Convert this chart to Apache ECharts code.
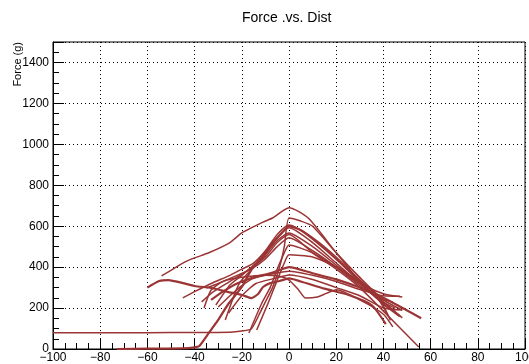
<!DOCTYPE html>
<html>
<head>
<meta charset="utf-8">
<script src="https://cdn.jsdelivr.net/npm/echarts@6/dist/echarts.min.js"></script>
<style>
  html, body { margin: 0; padding: 0; background: #fff; }
  #chart { width: 529px; height: 364px; }
</style>
</head>
<body>
<div id="chart"></div>
<script>
// each curve is a list of [dist, force] points
var c1 = [[-54, 357], [-45, 420], [-40, 445], [-34, 470], [-25, 520], [-20, 567], [-11, 620], [-7, 640], [0, 690], [4, 672], [9, 630], [20, 470], [30, 330], [38, 240], [45, 200]]
var c2 = [[-73, 0], [-60, 2], [-45, 3], [-40, 8], [-38, 15], [-34, 78], [-30, 142], [-26, 215], [-20, 303], [-16, 386], [-11, 450], [-7, 518], [-3, 567], [0, 600], [5, 580], [12, 520], [20, 440], [30, 330], [40, 220], [47, 160]]
var c3 = [[-100, 80], [-80, 79], [-60, 80], [-40, 81], [-25, 82], [-20, 88], [-16, 98], [-13, 160], [-10, 230], [-7, 300], [-4, 400], [-2, 500], [0, 640], [5, 625], [10, 600], [20, 470], [30, 350], [40, 240], [48, 190]]
var c4 = [[-60, 300], [-55, 332], [-51, 337], [-47, 328], [-40, 308], [-33, 298], [-26, 279], [-20, 264], [-16, 249], [-13, 270], [-11, 303], [-8, 322], [-4, 332], [0, 345], [5, 330], [15, 295], [25, 265], [35, 215], [41, 122]]
var c5 = [[-36, 200], [-33, 288], [-28, 330], [-20, 350], [-10, 360], [-4, 355], [0, 337], [4, 290], [7, 249], [12, 254], [16, 273], [20, 289], [30, 240], [40, 170], [44, 108]]
var c6 = [[-45, 250], [-40, 280], [-33, 320], [-25, 360], [-20, 390], [-15, 420], [-10, 480], [-5, 560], [0, 606], [8, 560], [18, 470], [28, 360], [38, 250], [43, 140]]
var c7 = [[-31, 215], [-25, 313], [-20, 360], [-14, 420], [-8, 500], [-3, 570], [0, 592], [10, 520], [20, 420], [30, 320], [40, 230], [48, 152]]
var c8 = [[-27, 142], [-21, 322], [-15, 400], [-10, 460], [-5, 530], [0, 567], [10, 500], [20, 410], [30, 320], [38, 240], [42, 160]]
var c9 = [[-35, 298], [-30, 320], [-22, 360], [-16, 390], [-10, 440], [-5, 500], [0, 543], [10, 480], [20, 400], [30, 310], [38, 250], [44, 230]]
var c10 = [[-17, 78], [-11.5, 225], [-8, 300], [-5, 390], [-2, 470], [0, 508], [10, 470], [20, 400], [30, 320], [40, 270], [48, 254]]
var c11 = [[-13.7, 93], [-9, 220], [-5.5, 322], [-2, 420], [0, 460], [10, 450], [20, 400], [30, 330], [38, 260], [40, 225]]
var c12 = [[-33, 240], [-28, 280], [-22, 320], [-15, 350], [-8, 370], [-3, 390], [0, 400], [10, 370], [20, 340], [30, 300], [40, 250], [56, 150]]
var c13 = [[-30, 205], [-25, 260], [-20, 310], [-15, 345], [-8, 365], [0, 380], [10, 360], [20, 330], [30, 290], [40, 260], [47, 258]]
var c14 = [[-25.6, 176], [-20, 260], [-14, 320], [-6, 345], [0, 362], [10, 340], [20, 300], [30, 260], [40, 200], [48, 190]]
var c15 = [[-37, 230], [-32, 280], [-25, 330], [-18, 380], [-10, 450], [-5, 520], [0, 560], [10, 470], [20, 390], [30, 300], [40, 185], [55, 10]]

var curves = [c1, c2, c3, c4, c5, c6, c7, c8, c9, c10, c11, c12, c13, c14, c15]
var thick = [1, 3, 11]

var chart = echarts.init(document.getElementById('chart'))

var series = curves.map(function (d, i) {
  return {
    type: 'line',
    data: d,
    showSymbol: false,
    smooth: 0.2,
    silent: true,
    lineStyle: {
      color: '#9b3434',
      width: thick.indexOf(i) >= 0 ? 2.2 : 1.5
    }
  }
})

chart.setOption({
  animation: false,
  title: {
    text: 'Force .vs. Dist',
    left: 237,
    top: 6,
    textStyle: {
      fontFamily: 'Liberation Sans',
      fontWeight: 'normal',
      fontSize: 14,
      color: '#000'
    }
  },
  graphic: [
    {
      type: 'text',
      x: 12,
      y: 42,
      rotation: Math.PI / 2,
      style: {
        text: 'Force (g)',
        fontFamily: 'Liberation Sans',
        fontSize: 11,
        fill: '#000',
        align: 'right',
        verticalAlign: 'top'
      }
    }
  ],
  grid: {
    left: 53,
    right: 4,
    top: 42,
    bottom: 15,
    outerBoundsMode: 'none',
    show: true,
    borderColor: '#000',
    borderWidth: 1
  },
  xAxis: {
    type: 'value',
    min: -100,
    max: 100,
    interval: 20,
    axisLine: { show: true, onZero: false, lineStyle: { color: '#000', width: 1 } },
    axisTick: { show: true, inside: true, length: 11, lineStyle: { color: '#000' } },
    minorTick: { show: true, splitNumber: 4, length: 6, lineStyle: { color: '#000' } },
    splitLine: { show: true, lineStyle: { color: '#000', type: [1, 3], width: 1 } },
    axisLabel: {
      margin: 3,
      fontFamily: 'Liberation Sans',
      fontSize: 12,
      color: '#000',
      formatter: function (v) { return String(v).replace('-', '\u2212') }
    }
  },
  yAxis: {
    type: 'value',
    min: 0,
    max: 1500,
    interval: 200,
    axisLine: { show: true, onZero: false, lineStyle: { color: '#000', width: 1 } },
    axisTick: { show: true, inside: true, length: 11, lineStyle: { color: '#000' } },
    minorTick: { show: true, splitNumber: 4, length: 6, lineStyle: { color: '#000' } },
    splitLine: { show: true, lineStyle: { color: '#000', type: [1, 3], width: 1 } },
    axisLabel: {
      margin: 4,
      fontFamily: 'Liberation Sans',
      fontSize: 12,
      color: '#000',
      formatter: function (v) { return v > 1400 ? '' : String(v) }
    }
  },
  series: series
})
</script>
</body>
</html>
